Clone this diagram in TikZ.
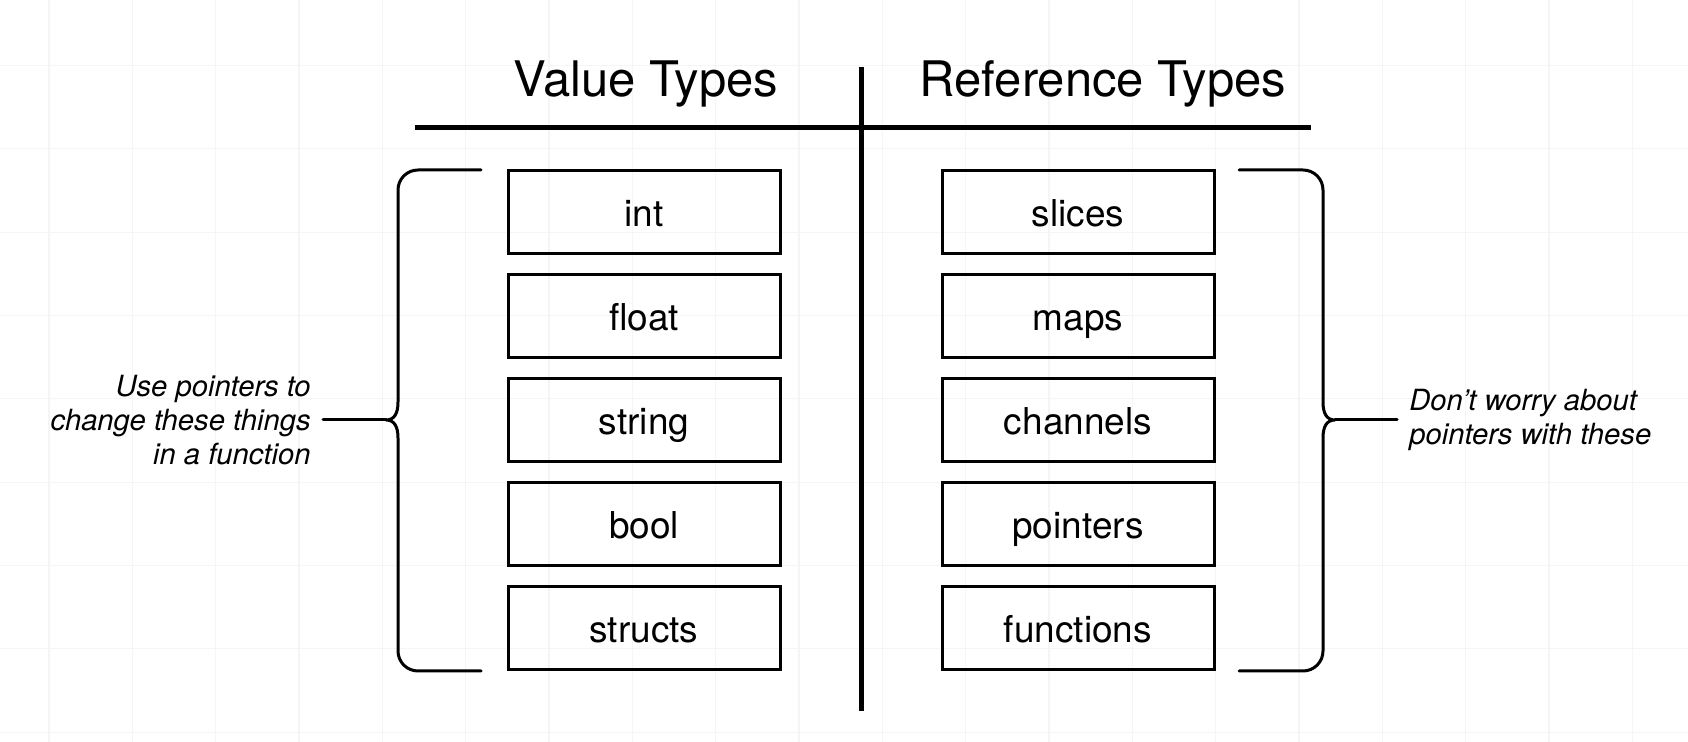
\documentclass[tikz,border=0pt]{standalone}
\usepackage{fontspec}
\setmainfont{TeX Gyre Heros}
\usepackage{xcolor}
\usepackage{tikz}

\begin{document}
\begin{tikzpicture}[x=0.5pt,
				y=-0.5pt,
				typebox/.style={draw, black, line width=1.5pt, minimum width=136pt, minimum height=41.5pt, inner sep=0pt, text height=14.5pt, text depth=0pt, font=\fontsize{18.5}{22}\selectfont},
				heading/.style={anchor=base, font=\fontsize{24.5}{29}\selectfont},
				note/.style={inner xsep=6pt, font=\fontsize{14.6}{16.8}\selectfont\itshape},
				brace/.style={line width=1.5pt, line cap=round},
				rule/.style={line width=2.5pt},
				gridline/.style={black!4, line width=0.6pt}]
				\fill[white] (0,0) rectangle (1688,742);
				\useasboundingbox (0,0) rectangle (1688,742);
				% background grid
				\foreach \gx in {0,...,19} \draw[gridline] ({49+83.33*\gx},0) -- ({49+83.33*\gx},742);
				\foreach \gy in {0,...,8} \draw[gridline] (0,{65.5+83.33*\gy}) -- (1688,{65.5+83.33*\gy});
				% headings and divider
				\node at (646,97) (valhead) [heading] {Value Types};
				\node at (1103,97) (refhead) [heading] {Reference Types};
				\coordinate (vtop) at (861,67);
				\coordinate (vbot) at (861,711);
				\coordinate (hleft) at (415,128);
				\coordinate (hright) at (1311,128);
				\draw[rule] (vtop) -- (vbot);
				\draw[rule] (hleft) -- (hright);
				% value types
				\node at (644,212.5) (int) [typebox] {int};
				\node at (644,316.5) (float) [typebox] {float};
				\node at (644,420.5) (string) [typebox] {string};
				\node at (644,524.5) (bool) [typebox] {bool};
				\node at (644,628.5) (structs) [typebox] {structs};
				% reference types
				\node at (1078,212.5) (slices) [typebox] {slices};
				\node at (1078,316.5) (maps) [typebox] {maps};
				\node at (1078,420.5) (channels) [typebox] {channels};
				\node at (1078,524.5) (pointers) [typebox] {pointers};
				\node at (1078,628.5) (functions) [typebox] {functions};
				% left brace
				\coordinate (lbtop) at (481,170);
				\coordinate (lbbot) at (481,671);
				\coordinate (ltip) at (386,420);
				\draw[brace] (lbtop) [rounded corners=10pt] -| (398,300) [sharp corners] -- (398,402)
					.. controls (398,414) and (394,420) .. (ltip)
					.. controls (394,420) and (398,426) .. (398,438) [rounded corners=10pt] |- (lbbot);
				\node at (323,420) (lnote) [note, anchor=east, align=right] {Use pointers to\\change these things\\in a function};
				\draw[brace] (ltip) -- (lnote);
				% right brace
				\coordinate (rbtop) at (1239,170);
				\coordinate (rbbot) at (1239,671);
				\coordinate (rtip) at (1335,420);
				\draw[brace] (rbtop) [rounded corners=10pt] -| (1323,300) [sharp corners] -- (1323,402)
					.. controls (1323,414) and (1327,420) .. (rtip)
					.. controls (1327,420) and (1323,426) .. (1323,438) [rounded corners=10pt] |- (rbbot);
				\node at (1397,420) (rnote) [note, anchor=west, align=left] {Don't worry about\\pointers with these};
				\draw[brace] (rtip) -- (rnote);
			\end{tikzpicture}
\end{document}
